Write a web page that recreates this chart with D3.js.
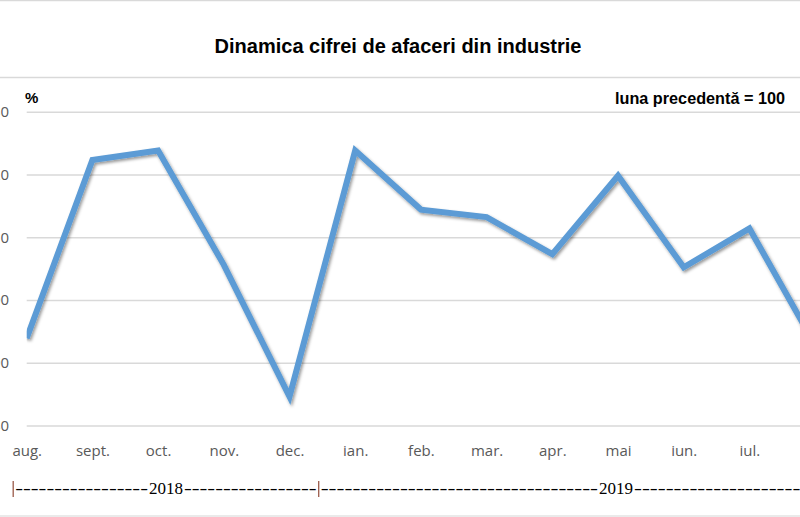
<!DOCTYPE html>
<html>
<head>
<meta charset="utf-8">
<script src="https://cdn.jsdelivr.net/npm/d3@7"></script>
<style>
html,body{margin:0;padding:0;background:#fff;overflow:hidden;}
svg{display:block;}
</style>
</head>
<body>
<svg id="chart" width="800" height="517"></svg>
<script>
const categories = ["aug.","sept.","oct.","nov.","dec.","ian.","feb.","mar.","apr.","mai","iun.","iul.","aug."];
const values = [93.9,122.3,123.8,105.6,84.6,123.8,114.4,113.2,107.3,119.8,105.2,111.4,92.8];
const yTicks = [80,90,100,110,120,130];
const years = [{label:"2018", from:0, to:4.65}, {label:"2019", from:4.65, to:13.7}];

const svg = d3.select("#chart");
const W = 800, H = 517;

const x = d3.scaleLinear().domain([0, categories.length-1]).range([26.7, 815.1]);
const y = d3.scaleLinear().domain([80,130]).range([425.5, 111.7]);

// frame lines
svg.append("line").attr("x1",0).attr("x2",W).attr("y1",0.5).attr("y2",0.5).attr("stroke","#d9d9d9").attr("stroke-width",1.5);
svg.append("line").attr("x1",0).attr("x2",W).attr("y1",77.5).attr("y2",77.5).attr("stroke","#d9d9d9").attr("stroke-width",1.5);
svg.append("line").attr("x1",0).attr("x2",W).attr("y1",516).attr("y2",516).attr("stroke","#e3e3e3").attr("stroke-width",1.5);

// title
svg.append("text").attr("x",398).attr("y",53).attr("text-anchor","middle")
  .attr("font-family","Liberation Sans, Arial, sans-serif").attr("font-weight","bold")
  .attr("font-size",20).attr("fill","#000").text("Dinamica cifrei de afaceri din industrie");

// gridlines + y labels via axis
const yAxis = d3.axisLeft(y).tickValues(yTicks).tickSize(-(W-26.7+20)).tickFormat(d3.format("d"));
const gy = svg.append("g").attr("transform","translate(26.7,0)").call(yAxis);
gy.select(".domain").remove();
gy.selectAll(".tick line").attr("stroke","#d9d9d9").attr("stroke-width",1.5);
gy.selectAll(".tick text").attr("x",-17.5).attr("fill","#595959")
  .attr("font-family","Open Sans, Noto Sans, sans-serif").attr("font-size",15);

// x labels
const xAxis = d3.axisBottom(x).tickValues(d3.range(categories.length)).tickSize(0).tickFormat(i=>categories[i]);
const gx = svg.append("g").attr("transform","translate(0,441)").call(xAxis);
gx.select(".domain").remove();
gx.selectAll(".tick text").attr("fill","#595959").attr("dy","0.71em").attr("y",4)
  .attr("font-family","Open Sans, Noto Sans, sans-serif").attr("font-size",15);

// unit labels
svg.append("text").attr("x",25).attr("y",103).attr("font-family","Liberation Sans, Arial, sans-serif")
  .attr("font-weight","bold").attr("font-size",15).text("%");
svg.append("text").attr("x",785).attr("y",104).attr("text-anchor","end").attr("font-family","Liberation Sans, Arial, sans-serif")
  .attr("font-weight","bold").attr("font-size",17).attr("textLength",170).attr("lengthAdjust","spacingAndGlyphs").text("luna precedentă = 100");

// shadow filter
const defs = svg.append("defs");
const f = defs.append("filter").attr("id","sh").attr("x","-10%").attr("y","-10%").attr("width","120%").attr("height","120%");
f.append("feDropShadow").attr("dx",1.5).attr("dy",2).attr("stdDeviation",1.6).attr("flood-color","#000").attr("flood-opacity",0.4);
defs.append("clipPath").attr("id","clip").append("rect").attr("x",26.7).attr("y",0).attr("width",W).attr("height",H);

const line = d3.line().x((d,i)=>x(i)).y(d=>y(d));
svg.append("path").datum(values).attr("d",line).attr("fill","none")
  .attr("stroke","#5b9bd5").attr("stroke-width",6).attr("stroke-linejoin","miter")
  .attr("filter","url(#sh)").attr("clip-path","url(#clip)");

// year row
const yearY = 494;
const sepX = d => x(d) - 13.5;
years.forEach(yr=>{
  const x0 = sepX(yr.from) + 2, x1 = sepX(yr.to) - 2;
  const mid = (x0+x1)/2;
  [[x0, mid-18],[mid+18, x1]].forEach(([a,b])=>{
    const n = Math.round((b-a)/7.9);
    svg.append("text").attr("x",a).attr("y",yearY).attr("font-family","Liberation Serif, Times New Roman, serif")
      .attr("font-size",16).attr("textLength",b-a).attr("lengthAdjust","spacingAndGlyphs").attr("fill","#000")
      .text("-".repeat(n));
  });
  svg.append("text").attr("x",mid).attr("y",yearY).attr("text-anchor","middle")
    .attr("font-family","Liberation Serif, Times New Roman, serif").attr("font-size",17).attr("fill","#000").text(yr.label);
});
years.forEach(yr=>{
  svg.append("line").attr("x1",sepX(yr.from)).attr("x2",sepX(yr.from)).attr("y1",481).attr("y2",497)
    .attr("stroke","#9b5a4a").attr("stroke-width",1.3);
});
</script>
</body>
</html>
